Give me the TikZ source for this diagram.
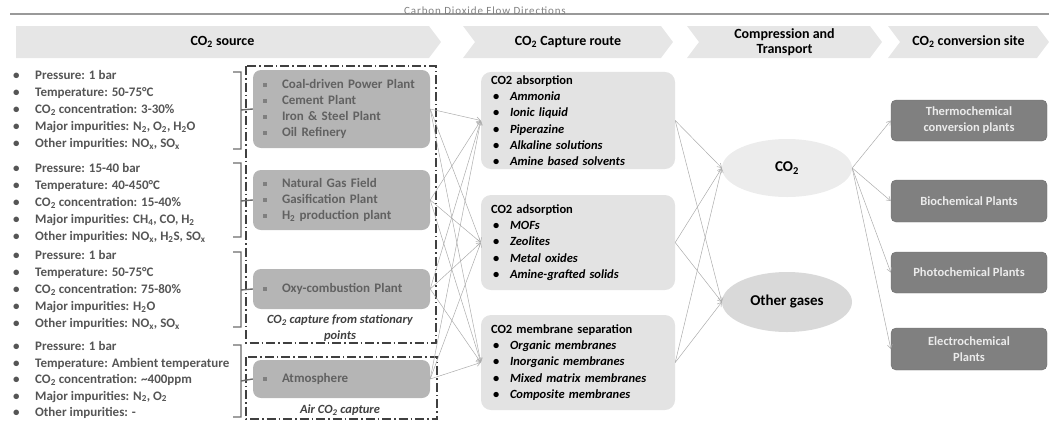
\documentclass[tikz,border=0pt]{standalone}
\usepackage{fontspec}
\setmainfont{Carlito}
\newfontfamily\spacedfont[LetterSpace=8]{Carlito}
\usetikzlibrary{positioning, shapes.geometric, shapes.symbols, arrows.meta}

\definecolor{headgray}{HTML}{E6E6E6}
\definecolor{srcgray}{HTML}{B5B5B5}
\definecolor{srctext}{HTML}{616161}
\definecolor{routegray}{HTML}{E3E3E3}
\definecolor{sitegray}{HTML}{808080}
\definecolor{proptext}{HTML}{555555}

\newcommand{\co}{CO\textsubscript{2}}
\newcommand{\pb}{\makebox[22pt][l]{\textbullet}}
\newcommand{\rb}{\makebox[19pt][l]{\hspace{2pt}\textbullet}}
\newcommand{\sq}{\makebox[19pt][l]{\color{srcgray!70!black}\rule[0.3ex]{3.5pt}{3.5pt}}}

\begin{document}
\begin{tikzpicture}[
  x=1pt, y=-1pt,
  head/.style={signal, signal to=east, signal pointer angle=106, fill=headgray, minimum height=32pt,
    inner sep=0pt, align=center, font=\bfseries\fontsize{14}{15}\selectfont},
  props/.style={anchor=west, align=left, inner sep=0pt, text=proptext, font=\bfseries\fontsize{13}{17}\selectfont},
  src/.style={rounded corners=8pt, fill=srcgray, text=srctext, text width=157pt, inner xsep=10pt,
    align=left, font=\bfseries\fontsize{13}{16}\selectfont},
  route/.style={rounded corners=10pt, fill=routegray, text width=174pt, inner xsep=10pt,
    minimum height=95pt, align=left, font=\bfseries\fontsize{12.5}{16.3}\selectfont},
  gas/.style={ellipse, minimum width=130pt, inner sep=0pt, font=\bfseries\fontsize{15}{17}\selectfont},
  site/.style={rounded corners=5pt, fill=sitegray, draw=sitegray!85!black, text=white!92!black,
    minimum width=156pt, minimum height=42pt, align=center, font=\bfseries\fontsize{12.5}{16}\selectfont},
  frame/.style={draw=black!75, line width=1.3pt, dash pattern=on 9pt off 3pt on 1.5pt off 3pt},
  brace/.style={draw=gray!85!black, line width=1.4pt},
  note/.style={text=black!75, font=\bfseries\itshape\fontsize{12.5}{16}\selectfont, align=center},
  flow/.style={-{Straight Barb[length=4pt, width=5pt]}, draw=gray!65, line width=0.5pt}
]
\useasboundingbox (0,0) rectangle (1049,421);

% title bar
\draw[gray!80, line width=2pt] (10,14) -- (1049,14);
\node[text=gray, font=\spacedfont\fontsize{11}{12}\selectfont, inner sep=0pt] (title) at (485,11) {Carbon Dioxide Flow Directions};

% stage headers
\node[head, signal from=nowhere, minimum width=425pt] (h1) at (222.5,42) {\co\ source};
\node[head, signal from=west, minimum width=210pt] (h2) at (568,42) {\co\ Capture route};
\node[head, signal from=west, minimum width=195pt] (h3) at (784.5,42) {Compression and\\Transport};
\node[head, signal from=west, minimum width=161pt] (h4) at (968.5,42) {\co\ conversion site};

% source conditions
\node[props] (p1) at (13,110) {\pb Pressure: 1 bar\\\pb Temperature: 50-75°C\\\pb \co\ concentration: 3-30\%\\
  \pb Major impurities: N\textsubscript{2}, O\textsubscript{2}, H\textsubscript{2}O\\\pb Other impurities: NO\textsubscript{x}, SO\textsubscript{x}};
\node[props] (p2) at (13,203) {\pb Pressure: 15-40 bar\\\pb Temperature: 40-450°C\\\pb \co\ concentration: 15-40\%\\
  \pb Major impurities: CH\textsubscript{4}, CO, H\textsubscript{2}\\\pb Other impurities: NO\textsubscript{x}, H\textsubscript{2}S, SO\textsubscript{x}};
\node[props] (p3) at (13,290) {\pb Pressure: 1 bar\\\pb Temperature: 50-75°C\\\pb \co\ concentration: 75-80\%\\
  \pb Major impurities: H\textsubscript{2}O\\\pb Other impurities: NO\textsubscript{x}, SO\textsubscript{x}};
\node[props, font=\bfseries\fontsize{13}{16.5}\selectfont] (p4) at (13,380) {\pb Pressure: 1 bar\\\pb Temperature: Ambient temperature\\\pb \co\ concentration: \textasciitilde400ppm\\
  \pb Major impurities: N\textsubscript{2}, O\textsubscript{2}\\\pb Other impurities: -};

% source plants
\node[src, minimum height=78pt] (s1) at (341.5,109) {\sq Coal-driven Power Plant\\\sq Cement Plant\\\sq Iron \& Steel Plant\\\sq Oil Refinery};
\node[src, minimum height=60pt] (s2) at (341.5,200) {\sq Natural Gas Field\\\sq Gasification Plant\\\sq H\textsubscript{2} production plant};
\node[src, minimum height=40pt] (s3) at (341.5,289) {\sq Oxy-combustion Plant};
\node[src, minimum height=38pt] (s4) at (341.5,379) {\sq Atmosphere};

\node[note] (n1) at (340,328) {\co\ capture from stationary\\points};
\node[note] (n2) at (340,410) {Air \co\ capture};

% frames
\draw[frame] (246,66) rectangle (436,343);
\draw[frame] (246,357) rectangle (437,419);

% brackets
\draw[brace] (233,72) -- (241,72) -- (241,149) -- (233,149) (241,110) -- (s1.west);
\draw[brace] (233,163) -- (241,163) -- (241,237) -- (233,237) (241,201) -- (s2.west);
\draw[brace] (233,252) -- (241,252) -- (241,327) -- (233,327) (241,290) -- (s3.west);
\draw[brace] (233,345) -- (241,345) -- (241,417) -- (233,417) (241,381) -- (s4.west);

% capture routes
\node[route] (r1) at (578,120.5) {CO2 absorption\\\rb\textit{Ammonia}\\\rb\textit{Ionic liquid}\\\rb\textit{Piperazine}\\
  \rb\textit{Alkaline solutions}\\\rb\textit{Amine based solvents}};
\node[route] (r2) at (578,242.5) {CO2 adsorption\\\rb\textit{MOFs}\\\rb\textit{Zeolites}\\\rb\textit{Metal oxides}\\
  \rb\textit{Amine-grafted solids}};
\node[route] (r3) at (578,362.5) {CO2 membrane separation\\\rb\textit{Organic membranes}\\\rb\textit{Inorganic membranes}\\
  \rb\textit{Mixed matrix membranes}\\\rb\textit{Composite membranes}};

% gases
\node[gas, fill=gray!15, minimum height=58pt] (g1) at (787,168) {\co};
\node[gas, fill=gray!30, minimum height=60pt] (g2) at (787,302) {Other gases};

% conversion sites
\node[site, minimum height=41pt] (c1) at (969,120.5) {Thermochemical\\conversion plants};
\node[site] (c2) at (969,201) {Biochemical Plants};
\node[site, minimum height=41pt] (c3) at (969,272.5) {Photochemical Plants};
\node[site] (c4) at (969,349) {Electrochemical\\Plants};

% flows
\foreach \s in {s1,s2,s3,s4}
  \foreach \r in {r1,r2,r3}
    \draw[flow] (\s.east) -- (\r.west);
\foreach \r in {r1,r2,r3}
  \foreach \g in {g1,g2}
    \draw[flow] (\r.east) -- (\g.west);
\foreach \c in {c1,c2,c3,c4}
  \draw[flow] (g1.east) -- (\c.west);

\end{tikzpicture}
\end{document}
